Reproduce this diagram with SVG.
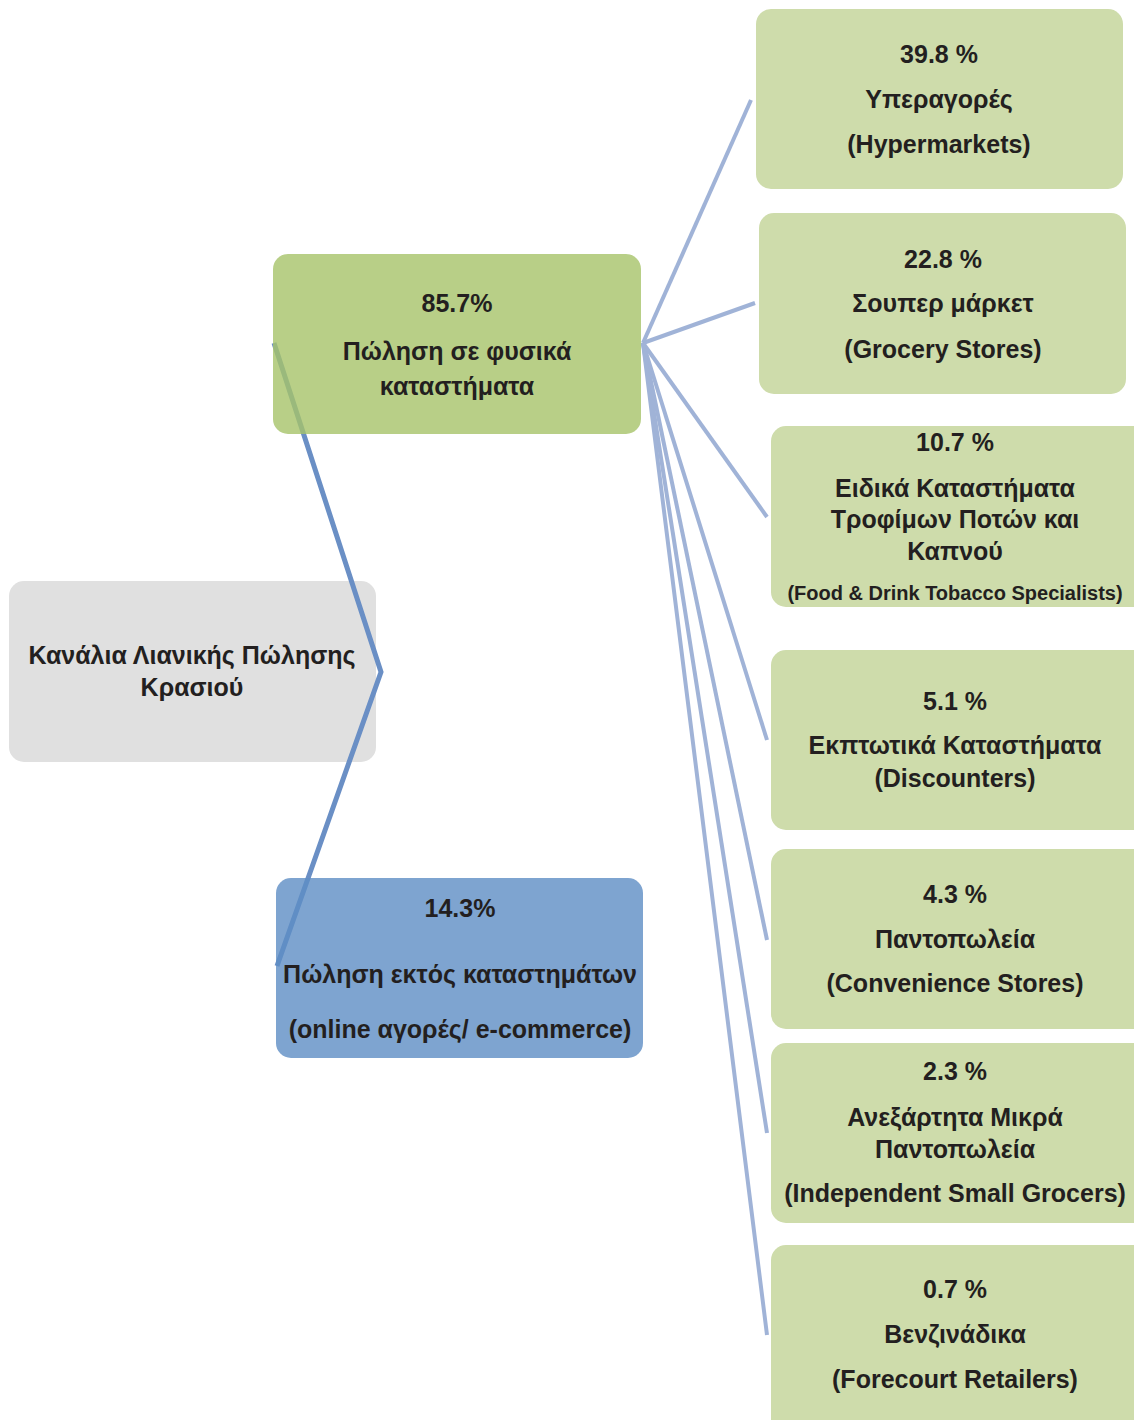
<svg xmlns="http://www.w3.org/2000/svg" width="1134" height="1420" viewBox="0 0 1134 1420">
<style>
text{font-family:"Liberation Sans",Arial,sans-serif;font-weight:bold;font-size:25px;fill:#231F20;text-anchor:middle}
.sm{font-size:20px}
.leaf{fill:#CEDCAB}
.c1{stroke:#6A8FC5;stroke-width:5;fill:none}
.c2{stroke:#A0B3D7;stroke-width:4;fill:none}
</style>
<rect width="1134" height="1420" fill="#FFFFFF"/>
<g id="root">
<rect x="9" y="581" width="367" height="181" rx="15" fill="#E0E0E0"/>
<text x="192" y="664">Κανάλια Λιανικής Πώλησης</text>
<text x="192" y="696">Κρασιού</text>
</g>
<g id="connectors">
<polyline class="c1" points="274,343 381,672 277,966"/>
<line class="c2" x1="643" y1="343" x2="751" y2="100"/>
<line class="c2" x1="643" y1="343" x2="755" y2="303"/>
<line class="c2" x1="643" y1="343" x2="767" y2="517"/>
<line class="c2" x1="643" y1="343" x2="767" y2="740"/>
<line class="c2" x1="643" y1="343" x2="767" y2="940"/>
<line class="c2" x1="643" y1="343" x2="767" y2="1133"/>
<line class="c2" x1="643" y1="343" x2="767" y2="1335"/>
</g>
<g id="physical">
<rect x="273" y="254" width="368" height="180" rx="15" fill="#A6C369" fill-opacity="0.8"/>
<text x="457" y="312">85.7%</text>
<text x="457" y="360">Πώληση σε φυσικά</text>
<text x="457" y="395">καταστήματα</text>
</g>
<g id="online">
<rect x="276" y="878" width="367" height="180" rx="15" fill="#5E8DC4" fill-opacity="0.8"/>
<text x="460" y="917">14.3%</text>
<text x="460" y="983">Πώληση εκτός καταστημάτων</text>
<text x="460" y="1038">(online αγορές/ e-commerce)</text>
</g>
<g id="hypermarkets">
<rect class="leaf" x="756" y="9" width="367" height="180" rx="15"/>
<text x="939" y="63">39.8 %</text>
<text x="939" y="108">Υπεραγορές</text>
<text x="939" y="153">(Hypermarkets)</text>
</g>
<g id="grocery">
<rect class="leaf" x="759" y="213" width="367" height="181" rx="15"/>
<text x="943" y="268">22.8 %</text>
<text x="943" y="312">Σουπερ μάρκετ</text>
<text x="943" y="358">(Grocery Stores)</text>
</g>
<g id="specialists">
<rect class="leaf" x="771" y="426" width="380" height="181" rx="15"/>
<text x="955" y="451">10.7 %</text>
<text x="955" y="497">Ειδικά Καταστήματα</text>
<text x="955" y="528">Τροφίμων Ποτών και</text>
<text x="955" y="560">Καπνού</text>
<text class="sm" x="955" y="600">(Food &amp; Drink Tobacco Specialists)</text>
</g>
<g id="discounters">
<rect class="leaf" x="771" y="650" width="380" height="180" rx="15"/>
<text x="955" y="710">5.1 %</text>
<text x="955" y="754">Εκπτωτικά Καταστήματα</text>
<text x="955" y="787">(Discounters)</text>
</g>
<g id="convenience">
<rect class="leaf" x="771" y="849" width="380" height="180" rx="15"/>
<text x="955" y="903">4.3 %</text>
<text x="955" y="948">Παντοπωλεία</text>
<text x="955" y="992">(Convenience Stores)</text>
</g>
<g id="independent">
<rect class="leaf" x="771" y="1043" width="380" height="180" rx="15"/>
<text x="955" y="1080">2.3 %</text>
<text x="955" y="1126">Ανεξάρτητα Μικρά</text>
<text x="955" y="1158">Παντοπωλεία</text>
<text x="955" y="1202">(Independent Small Grocers)</text>
</g>
<g id="forecourt">
<rect class="leaf" x="771" y="1245" width="380" height="190" rx="15"/>
<text x="955" y="1298">0.7 %</text>
<text x="955" y="1343">Βενζινάδικα</text>
<text x="955" y="1388">(Forecourt Retailers)</text>
</g>
</svg>
